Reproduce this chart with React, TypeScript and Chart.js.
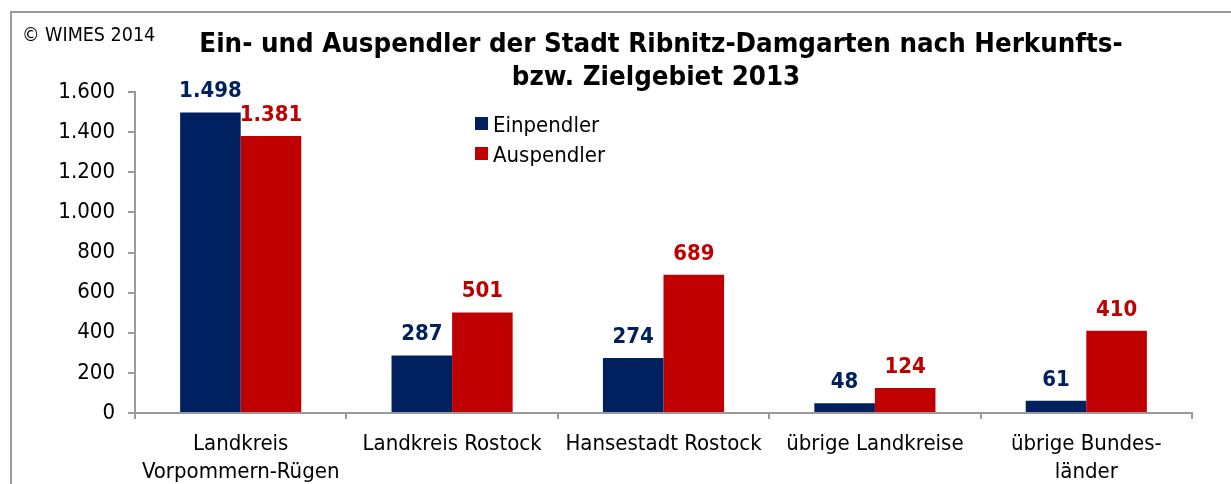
import React, { useEffect, useRef } from "react";
import { Chart, registerables } from "chart.js";

Chart.register(...registerables);

const categories: (string | string[])[] = [
  ["Landkreis", "Vorpommern-Rügen"],
  "Landkreis Rostock",
  "Hansestadt Rostock",
  "übrige Landkreise",
  ["übrige Bundes-", "länder"],
];
const einpendler = [1498, 287, 274, 48, 61];
const auspendler = [1381, 501, 689, 124, 410];
const seriesNames = ["Einpendler", "Auspendler"];
const titleLines = [
  "Ein- und Auspendler der Stadt Ribnitz-Damgarten nach Herkunfts-",
  "bzw. Zielgebiet 2013",
];
const copyright = "© WIMES 2014";

const BLUE = "#002060";
const RED = "#C00000";
const FONT = "'DejaVu Sans Condensed', 'DejaVu Sans', sans-serif";

const fmt = (v: number) => v.toLocaleString("de-DE");

const decorPlugin = {
  id: "decor",
  afterDraw(chart: any) {
    const ctx = chart.ctx as CanvasRenderingContext2D;
    ctx.save();
    // outer frame
    ctx.strokeStyle = "#9a9a9a";
    ctx.lineWidth = 2;
    ctx.strokeRect(11, 12, 1300, 600);
    // copyright
    ctx.fillStyle = "#000";
    ctx.font = `19.5px ${FONT}`;
    ctx.textAlign = "left";
    ctx.textBaseline = "alphabetic";
    ctx.fillText(copyright, 22, 41);
    // title
    ctx.font = `bold 27.4px ${FONT}`;
    ctx.textAlign = "center";
    ctx.fillText(titleLines[0], 661, 52);
    ctx.fillText(titleLines[1], 656, 85);
    // legend
    const colors = [BLUE, RED];
    ctx.font = `22px ${FONT}`;
    ctx.textAlign = "left";
    seriesNames.forEach((name, i) => {
      const y = 117 + i * 30;
      ctx.fillStyle = colors[i];
      ctx.fillRect(475, y, 13, 13);
      ctx.fillStyle = "#000";
      ctx.fillText(name, 493, y + 15);
    });
    // data labels
    ctx.font = `bold 22px ${FONT}`;
    ctx.textAlign = "center";
    chart.data.datasets.forEach((ds: any, di: number) => {
      const meta = chart.getDatasetMeta(di);
      meta.data.forEach((bar: any, i: number) => {
        ctx.fillStyle = colors[di];
        ctx.fillText(fmt(ds.data[i]), bar.x, bar.y - 15);
      });
    });
    ctx.restore();
  },
};

export default function App() {
  const ref = useRef<HTMLCanvasElement>(null);
  useEffect(() => {
    const canvas = ref.current!;
    const chart = new Chart(canvas, {
      type: "bar",
      data: {
        labels: categories,
        datasets: [
          {
            label: seriesNames[0],
            data: einpendler,
            backgroundColor: BLUE,
            categoryPercentage: 0.573,
            barPercentage: 1,
          },
          {
            label: seriesNames[1],
            data: auspendler,
            backgroundColor: RED,
            categoryPercentage: 0.573,
            barPercentage: 1,
          },
        ],
      },
      options: {
        animation: false,
        responsive: false,
        maintainAspectRatio: false,
        layout: { padding: { top: 92, right: 39, left: 0, bottom: 0 } },
        plugins: {
          legend: { display: false },
          title: { display: false },
          tooltip: { enabled: false },
        },
        scales: {
          x: {
            offset: true,
            grid: {
              display: true,
              offset: true,
              drawOnChartArea: false,
              drawTicks: true,
              tickLength: 6,
              color: "#9a9a9a",
              lineWidth: 2,
            },
            border: { display: true, color: "#9a9a9a", width: 2 },
            ticks: {
              color: "#000",
              font: { family: FONT, size: 22, lineHeight: 1.25 },
              padding: 12,
              maxRotation: 0,
              autoSkip: false,
            },
            afterFit(scale: any) {
              scale.height = 71;
            },
          },
          y: {
            min: 0,
            max: 1600,
            ticks: {
              stepSize: 200,
              color: "#000",
              font: { family: FONT, size: 22 },
              padding: 13,
              callback: (v: any) => fmt(Number(v)),
            },
            grid: {
              display: true,
              drawOnChartArea: false,
              drawTicks: true,
              tickLength: 7,
              color: "#9a9a9a",
              lineWidth: 2,
            },
            border: { display: true, color: "#9a9a9a", width: 2 },
            afterFit(scale: any) {
              scale.width = 135;
            },
          },
        },
      },
      plugins: [decorPlugin],
    });
    return () => chart.destroy();
  }, []);
  return (
    <div style={{ position: "absolute", left: 0, top: 0, width: 1231, height: 484, background: "#fff" }}>
      <canvas ref={ref} width={1231} height={484} style={{ display: "block" }} />
    </div>
  );
}
